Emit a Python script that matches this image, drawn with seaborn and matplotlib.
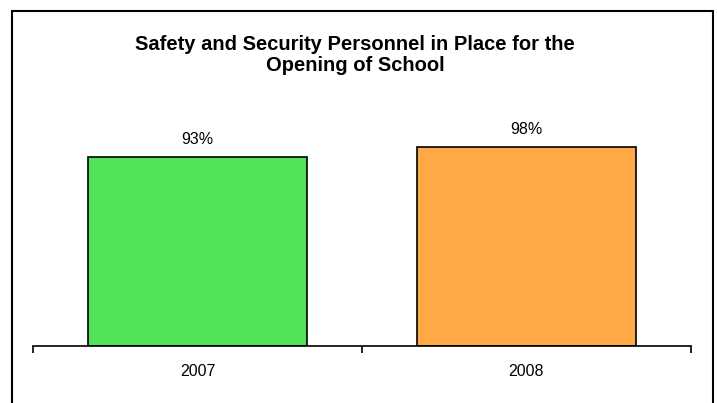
import matplotlib
matplotlib.use("Agg")
import matplotlib.pyplot as plt
import seaborn as sns
import pandas as pd
from matplotlib.patches import Rectangle

years = ["2007", "2008"]
percent = [93, 98]
bar_colors = ["#52E35A", "#FFA846"]
title = "Safety and Security Personnel in Place for the\nOpening of School"

sns.set_theme(style="white")
plt.rcParams["font.family"] = ["Liberation Sans", "DejaVu Sans"]

W, H = 717, 403
fig = plt.figure(figsize=(W / 100, H / 100), dpi=100)

# outer frame (open at the bottom)
fig.add_artist(Rectangle((12 / W, -0.05), (713 - 12) / W, 1.05 - 11 / H,
                         transform=fig.transFigure, fill=False,
                         edgecolor="black", linewidth=1.5))

ax = fig.add_axes([33 / W, (H - 346) / H, (691 - 33) / W, 203 / H])
df = pd.DataFrame({"year": years, "pct": percent})
sns.barplot(data=df, x="year", y="pct", hue="year", palette=bar_colors,
            width=0.665, edgecolor="black", linewidth=1.2, legend=False,
            ax=ax, saturation=1)

ax.set_xlim(-0.5, 1.5)
ax.set_ylim(0, 100)
for side in ["top", "right", "left"]:
    ax.spines[side].set_visible(False)
ax.spines["bottom"].set_color("black")
ax.spines["bottom"].set_linewidth(1.2)
ax.set_yticks([])
ax.set_xlabel("")
ax.set_ylabel("")

# category boundary ticks
ax.set_xticks([-0.5, 0.5, 1.5], minor=False)
ax.set_xticklabels([])
ax.tick_params(axis="x", which="major", direction="out", length=5, width=1.2,
               color="black", bottom=True)
ax.set_xticks([0, 1], minor=True)
ax.set_xticklabels(years, minor=True, fontsize=11.5)
ax.tick_params(axis="x", which="minor", length=0, pad=13, labelcolor="black")

for i, v in enumerate(percent):
    ax.text(i, v + 5, f"{v}%", ha="center", va="bottom", fontsize=11.5,
            color="black", clip_on=False)

fig.text(355 / W, 1 - 55 / H, title, ha="center", va="center",
         fontsize=14.5, fontweight="bold", color="black", linespacing=1.12)

fig.savefig("out.png", dpi=100, facecolor="white")
